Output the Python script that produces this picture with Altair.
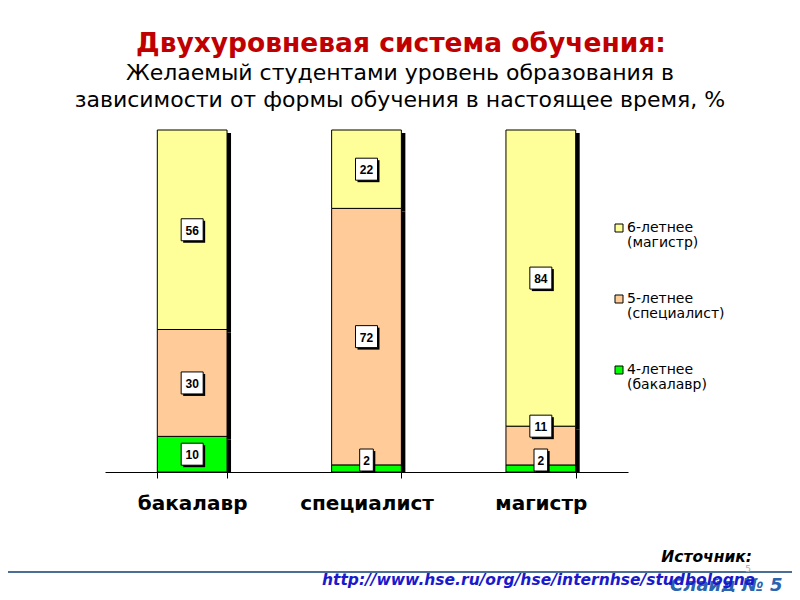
import altair as alt
import pandas as pd

categories = ["бакалавр", "специалист", "магистр"]
levels = ["4-летнее (бакалавр)", "5-летнее (специалист)", "6-летнее (магистр)"]
values = {
    "бакалавр": [10, 30, 56],
    "специалист": [2, 72, 22],
    "магистр": [2, 11, 84],
}
level_colors = ["#00FF00", "#FFCC99", "#FFFF99"]
legend_lines = [("6-летнее", "(магистр)"), ("5-летнее", "(специалист)"), ("4-летнее", "(бакалавр)")]
legend_colors = ["#FFFF99", "#FFCC99", "#00FF00"]

title_text = "Двухуровневая система обучения:"
subtitle_lines = ["Желаемый студентами уровень образования в",
                  "зависимости от формы обучения в настоящее время, %"]
source_label = "Источник:"
source_url = "http://www.hse.ru/org/hse/internhse/studbologna"
slide_label = "Слайд № 5"

rows = []
for c in categories:
    for i, lv in enumerate(levels):
        rows.append({"cat": c, "level": lv, "ord": i, "value": values[c][i]})
df = pd.DataFrame(rows)

W, H = 523, 342

base = alt.Chart(df).transform_stack(
    stack="value", groupby=["cat"], offset="normalize",
    sort=[alt.SortField("ord", order="ascending")], as_=["y0", "y1"]
)

xenc = alt.X("cat:N", sort=categories,
             scale=alt.Scale(paddingInner=0.6, paddingOuter=0.3),
             axis=alt.Axis(title=None, labelFontSize=20, labelFontWeight="bold",
                           labelFont="DejaVu Sans", labelColor="black",
                           domainColor="black", tickColor="black", tickBand="extent",
                           tickSize=6, labelPadding=15, grid=False, labelAngle=0))
yscale = alt.Scale(domain=[0, 1])

shadow = base.mark_bar(color="black", xOffset=4, yOffset=3, y2Offset=3, clip=True).encode(
    x=xenc, y=alt.Y("y0:Q", scale=yscale, axis=None), y2="y1:Q")

bars = base.mark_bar(stroke="black", strokeWidth=1).encode(
    x=xenc, y=alt.Y("y0:Q", scale=yscale, axis=None), y2="y1:Q",
    color=alt.Color("level:N", scale=alt.Scale(domain=levels, range=level_colors), legend=None))

lab = base.transform_calculate(
    share="datum.y1 - datum.y0",
).transform_calculate(
    pos="datum.share < 0.05 ? max((datum.y0 + datum.y1) / 2, 0.035) : "
        "((datum.share < 0.15 && datum.y0 > 0) ? datum.y1 : (datum.y0 + datum.y1) / 2)"
)
shape_enc = alt.condition("datum.value < 10", alt.value("M-0.62,-1H0.62V1H-0.62Z"), alt.value("square"))

box_shadow = lab.mark_point(filled=True, color="black", opacity=1, size=484, xOffset=2, yOffset=2).encode(
    x=xenc, y=alt.Y("pos:Q", scale=yscale, axis=None), shape=shape_enc)
boxes = lab.mark_point(filled=True, fill="white", stroke="black", strokeWidth=1, opacity=1, size=484).encode(
    x=xenc, y=alt.Y("pos:Q", scale=yscale, axis=None), shape=shape_enc)
texts = lab.mark_text(font="Liberation Sans", fontWeight="bold", fontSize=12, color="black",
                      baseline="middle", dy=1).encode(
    x=xenc, y=alt.Y("pos:Q", scale=yscale, axis=None), text="value:Q")

one = alt.Data(values=[{"a": 1}])

def annot(text, x, y, **kw):
    return alt.Chart(one).mark_text(text=text, **kw).encode(x=alt.value(x), y=alt.value(y))

layers = [shadow, bars, box_shadow, boxes, texts]

# Title
layers.append(annot(title_text, 296, -86, font="DejaVu Sans", fontSize=26.5, fontWeight="bold",
                    color="#C00000", align="center", baseline="middle"))
for i, line in enumerate(subtitle_lines):
    layers.append(annot(line, 295, -57 + 27 * i, font="DejaVu Sans", fontSize=22,
                        color="black", align="center", baseline="middle"))

# Legend
for i, (l1, l2) in enumerate(legend_lines):
    y = 98 + 71 * i
    layers.append(alt.Chart(one).mark_square(size=64, opacity=1, fill=legend_colors[i], stroke="black",
                                             strokeWidth=1, filled=True).encode(
        x=alt.value(514), y=alt.value(y)))
    layers.append(annot(l1, 522, y, font="DejaVu Sans", fontSize=14, color="black",
                        align="left", baseline="middle"))
    layers.append(annot(l2, 522, y + 15, font="DejaVu Sans", fontSize=14, color="black",
                        align="left", baseline="middle"))

# Footer
layers.append(annot(source_label, 647, 427, font="DejaVu Sans", fontSize=15.5, fontWeight="bold",
                    fontStyle="italic", color="black", align="right", baseline="middle"))
layers.append(alt.Chart(one).mark_rule(color="#4A6E96", strokeWidth=2).encode(
    x=alt.value(-105), x2=alt.value(700), y=alt.value(442)))
layers.append(annot("5", 643, 439, font="DejaVu Sans", fontSize=9, color="#AAAAAA",
                    align="center", baseline="middle"))
layers.append(annot(slide_label, 565, 456, font="DejaVu Sans", fontSize=18, fontWeight="bold",
                    fontStyle="italic", color="#2A63B0", align="left", baseline="middle"))
layers.append(annot(source_url, 217, 450, font="DejaVu Sans", fontSize=15.5, fontWeight="bold",
                    fontStyle="italic", color="#1A1ACC", align="left", baseline="middle"))

chart = alt.layer(*layers).properties(
    width=W, height=H,
    autosize=alt.AutoSizeParams(type="none"),
    padding={"left": 97, "top": 122, "right": 164, "bottom": 120},
).configure_view(stroke=None)

chart.save("out.html", embed_options={"renderer": "svg", "actions": False})
